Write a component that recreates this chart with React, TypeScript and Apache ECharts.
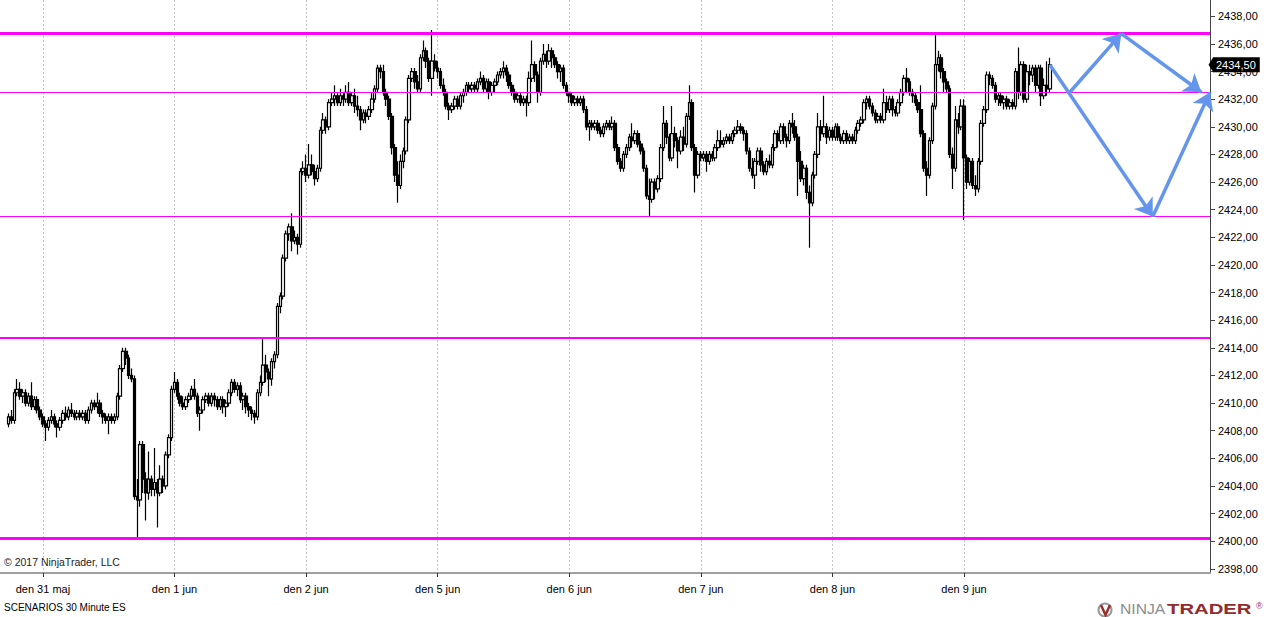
import React, { useEffect, useRef } from "react";
import * as echarts from "echarts";

// one row per 30 minute bar: [open, close, low, high]
type Bar = [number, number, number, number];

const pre30maj: Bar[] = [
  [2408.5, 2409, 2408.25, 2409.25], [2409, 2408.75, 2408.5, 2409.5], [2408.75, 2410.75, 2408.5, 2411],
  [2410.75, 2411, 2410.5, 2411.75], [2411, 2410.5, 2410.25, 2411.5], [2410.5, 2410.75, 2410, 2411],
  [2410.75, 2410, 2409.75, 2411], [2410, 2410.5, 2409.75, 2410.75], [2410.5, 2409.75, 2409.5, 2411.5],
  [2409.75, 2410.25, 2409.5, 2410.5], [2410.25, 2409.5, 2409.25, 2410.5], [2409.5, 2409, 2408.75, 2409.75],
];

const day31maj: Bar[] = [
  [2409, 2408.5, 2408.25, 2409.25], [2408.5, 2408.25, 2407.25, 2408.75], [2408.25, 2408.75, 2408, 2409],
  [2408.75, 2409, 2408.5, 2409.5], [2409, 2408.5, 2408.25, 2409.25], [2408.5, 2408.25, 2407.5, 2408.75],
  [2408.25, 2408.75, 2408, 2409], [2408.75, 2409.25, 2408.5, 2409.5], [2409.25, 2409, 2408.75, 2409.75],
  [2409, 2409.5, 2408.75, 2409.75], [2409.5, 2409.25, 2409, 2410], [2409.25, 2409, 2408.75, 2409.5],
  [2409, 2409.25, 2408.75, 2409.5], [2409.25, 2409, 2408.75, 2409.5], [2409, 2409.25, 2408.75, 2409.5],
  [2409.25, 2408.75, 2408.5, 2409.5], [2408.75, 2409.5, 2408.5, 2409.75], [2409.5, 2410, 2409.25, 2410.25],
  [2410, 2409.75, 2409.5, 2410.25], [2409.75, 2410, 2409.25, 2410.75], [2410, 2409.25, 2409, 2410.25],
  [2409.25, 2409, 2408.5, 2409.5], [2409, 2408.75, 2408.5, 2409.25], [2408.75, 2409, 2407.75, 2409.25],
  [2409, 2408.75, 2408.5, 2409.25], [2408.75, 2409, 2408.5, 2409.25], [2409, 2410.5, 2408.75, 2410.75],
  [2410.5, 2412.5, 2410.25, 2412.75], [2412.5, 2413.75, 2412.25, 2414], [2413.75, 2413.25, 2412.75, 2414],
  [2413.25, 2412, 2411.75, 2413.5], [2412, 2411.75, 2411.5, 2412.5], [2411.75, 2403.25, 2403, 2412],
  [2403.25, 2403, 2400.25, 2404.5], [2403, 2407, 2402.5, 2407.25], [2407, 2404.5, 2403.5, 2407.25],
  [2404.5, 2403.5, 2401.5, 2405], [2403.5, 2404.5, 2403, 2406.5], [2404.5, 2403.75, 2403.25, 2404.75],
  [2403.75, 2404.25, 2403.25, 2406.75], [2404.25, 2403.5, 2401, 2404.5], [2403.5, 2404.5, 2403.25, 2405.5],
  [2404.5, 2404, 2403.5, 2404.75], [2404, 2406.25, 2403.75, 2406.5], [2406.25, 2407.5, 2406, 2407.75],
  [2407.5, 2411, 2407.25, 2411.25],
];

const day1jun: Bar[] = [
  [2411, 2411.5, 2410.75, 2412.25], [2411.5, 2410.5, 2410.25, 2411.75], [2410.5, 2410, 2409.75, 2410.75],
  [2410, 2409.75, 2409.5, 2410.5], [2409.75, 2410.25, 2409.5, 2410.5], [2410.25, 2410.5, 2410, 2410.75],
  [2410.5, 2411, 2410.25, 2411.25], [2411, 2410.5, 2410.25, 2411.75], [2410.5, 2409.25, 2409, 2410.75],
  [2409.25, 2409.5, 2408, 2409.75], [2409.5, 2410.25, 2409.25, 2410.5], [2410.25, 2410.5, 2410, 2410.75],
  [2410.5, 2410, 2409.75, 2410.75], [2410, 2410.5, 2409.75, 2410.75], [2410.5, 2410.25, 2409.75, 2410.75],
  [2410.25, 2409.75, 2409.5, 2410.5], [2409.75, 2410.25, 2409.5, 2410.5], [2410.25, 2409.75, 2409.25, 2410.5],
  [2409.75, 2410, 2409, 2410.25], [2410, 2410.75, 2409.75, 2411], [2410.75, 2411.5, 2410.5, 2411.75],
  [2411.5, 2411, 2410.75, 2411.75], [2411, 2411.25, 2410.5, 2411.5], [2411.25, 2410.25, 2410, 2411.5],
  [2410.25, 2410.5, 2409.5, 2410.75], [2410.5, 2409.75, 2409.25, 2410.75], [2409.75, 2409.5, 2409, 2410],
  [2409.5, 2409.25, 2408.75, 2409.75], [2409.25, 2409, 2408.5, 2409.5], [2409, 2410.75, 2408.75, 2411],
  [2410.75, 2411.5, 2410.5, 2412], [2411.5, 2412.75, 2411.25, 2414.75], [2412.75, 2412.25, 2411.5, 2413.5],
  [2412.25, 2411.75, 2410.5, 2412.5], [2411.75, 2413, 2411.25, 2413.25], [2413, 2413.5, 2412.5, 2413.75],
  [2413.5, 2417, 2413.25, 2417.25], [2417, 2417.75, 2416.5, 2418], [2417.75, 2420.5, 2417.5, 2420.75],
  [2420.5, 2422.25, 2420.25, 2422.5], [2422.25, 2422.75, 2421.75, 2423], [2422.75, 2421.75, 2421, 2423.75],
  [2421.75, 2422, 2421.5, 2422.5], [2422, 2421.5, 2420.75, 2422.25], [2421.5, 2426.75, 2421.25, 2427],
  [2426.75, 2427, 2426.5, 2427.5],
];

const day2jun: Bar[] = [
  [2427, 2426.5, 2426, 2428], [2426.5, 2427.25, 2426.25, 2428.75], [2427.25, 2426.75, 2426.5, 2428],
  [2426.75, 2426.25, 2425.75, 2427.25], [2426.25, 2427, 2426, 2427.25], [2427, 2429.75, 2426.75, 2430],
  [2429.75, 2430.5, 2429.5, 2431], [2430.5, 2430, 2429.5, 2430.75], [2430, 2431.75, 2429.75, 2432],
  [2431.75, 2432, 2431.5, 2432.5], [2432, 2432.25, 2431.5, 2433], [2432.25, 2431.75, 2431.5, 2432.5],
  [2431.75, 2432.25, 2431.5, 2432.75], [2432.25, 2432, 2431.5, 2432.5], [2432, 2432.5, 2431.75, 2433],
  [2432.5, 2431.75, 2431.5, 2433.25], [2431.75, 2432.25, 2431.5, 2432.5], [2432.25, 2431.5, 2431, 2432.75],
  [2431.5, 2431.25, 2430.75, 2432.25], [2431.25, 2430.5, 2429.75, 2431.5], [2430.5, 2431, 2430.25, 2431.25],
  [2431, 2430.75, 2430.25, 2431.25], [2430.75, 2431.25, 2430.5, 2431.5], [2431.25, 2432, 2431, 2432.5],
  [2432, 2432.75, 2431.75, 2433], [2432.75, 2434.25, 2432.5, 2434.5], [2434.25, 2434, 2433.5, 2434.5],
  [2434, 2432.5, 2432.25, 2434.5], [2432.5, 2432, 2431.5, 2432.75], [2432, 2430.75, 2430.5, 2432.25],
  [2430.75, 2428.5, 2428, 2431], [2428.5, 2426.5, 2426, 2428.75], [2426.5, 2425.75, 2424.5, 2427.5],
  [2425.75, 2427.5, 2425.5, 2428], [2427.5, 2428.25, 2427, 2428.5], [2428.25, 2430.5, 2428, 2430.75],
  [2430.5, 2433.5, 2430.25, 2433.75], [2433.5, 2434, 2433.25, 2434.25], [2434, 2433.25, 2432.75, 2434.25],
  [2433.25, 2432.75, 2432.5, 2433.75], [2432.75, 2435, 2432.5, 2435.25], [2435, 2435.5, 2434.75, 2436.25],
  [2435.5, 2434.75, 2434.25, 2435.75], [2434.75, 2433.5, 2433.25, 2435], [2433.5, 2434.75, 2432.25, 2437],
  [2434.75, 2434.25, 2434, 2435.25],
];

const day5jun: Bar[] = [
  [2434.25, 2434, 2433.5, 2434.75], [2434, 2433, 2432.75, 2434.25], [2433, 2432.5, 2432.25, 2433.5],
  [2432.5, 2431.5, 2431.25, 2432.75], [2431.5, 2431.25, 2430.5, 2431.75], [2431.25, 2431.5, 2431, 2431.75],
  [2431.5, 2432, 2431.25, 2432.25], [2432, 2431.5, 2431.25, 2432.25], [2431.5, 2432.25, 2431.25, 2432.5],
  [2432.25, 2432.5, 2431.75, 2432.75], [2432.5, 2433, 2432.25, 2433.25], [2433, 2432.75, 2432.5, 2433.25],
  [2432.75, 2433, 2432.5, 2433.25], [2433, 2432.75, 2432.5, 2433.25], [2432.75, 2433.25, 2432.5, 2433.5],
  [2433.25, 2433.5, 2433, 2434], [2433.5, 2432.75, 2432.5, 2433.75], [2432.75, 2433.25, 2432.5, 2433.5],
  [2433.25, 2432.5, 2432, 2433.5], [2432.5, 2433, 2432.25, 2433.25], [2433, 2433.25, 2432.5, 2433.5],
  [2433.25, 2433.75, 2433, 2434], [2433.75, 2434, 2433.5, 2434.25], [2434, 2434.25, 2433.5, 2434.75],
  [2434.25, 2433.75, 2433.25, 2434.5], [2433.75, 2433, 2432.75, 2434], [2433, 2432.5, 2432.25, 2433.25],
  [2432.5, 2432, 2431.75, 2432.75], [2432, 2432.25, 2431.75, 2432.5], [2432.25, 2431.75, 2431.5, 2432.5],
  [2431.75, 2432, 2431.5, 2432.25], [2432, 2431.75, 2430.75, 2432.25], [2431.75, 2433.5, 2431.5, 2434],
  [2433.5, 2434.5, 2433.25, 2436.25], [2434.5, 2433.75, 2433.25, 2434.75], [2433.75, 2432.5, 2431.75, 2434],
  [2432.5, 2434.75, 2432.25, 2435], [2434.75, 2435.25, 2434.5, 2436], [2435.25, 2434.75, 2434.25, 2435.5],
  [2434.75, 2435.5, 2434.5, 2436], [2435.5, 2435, 2434.25, 2435.75], [2435, 2434.5, 2434.25, 2435.25],
  [2434.5, 2434, 2433.5, 2434.75], [2434, 2434.25, 2433.25, 2434.5], [2434.25, 2433, 2432.75, 2434.5],
  [2433, 2432.5, 2432.25, 2433.25],
];

const day6jun: Bar[] = [
  [2432.5, 2432.25, 2431.75, 2432.5], [2432.25, 2431.75, 2431.5, 2432.5], [2431.75, 2432, 2431.5, 2432.25],
  [2432, 2431.75, 2431.5, 2432.25], [2431.75, 2432, 2431.5, 2432.25], [2432, 2431.25, 2431, 2432.25],
  [2431.25, 2430, 2429.75, 2431.5], [2430, 2430.25, 2429, 2430.5], [2430.25, 2430, 2429.75, 2430.5],
  [2430, 2430.25, 2429.75, 2430.5], [2430.25, 2429.75, 2429.5, 2430.5], [2429.75, 2429.5, 2429.25, 2430],
  [2429.5, 2430, 2429.25, 2430.25], [2430, 2430.25, 2429.75, 2430.5], [2430.25, 2430, 2429.75, 2430.5],
  [2430, 2430.25, 2429.75, 2430.75], [2430.25, 2428.5, 2428.25, 2430.5], [2428.5, 2427.5, 2427.25, 2428.75],
  [2427.5, 2427, 2426.75, 2427.75], [2427, 2428, 2426.75, 2428.25], [2428, 2428.5, 2427.75, 2428.75],
  [2428.5, 2429.25, 2428.25, 2429.5], [2429.25, 2429, 2428.5, 2430.25], [2429, 2429.5, 2428.75, 2429.75],
  [2429.5, 2428.75, 2428.5, 2429.75], [2428.75, 2428.25, 2428, 2429], [2428.25, 2427, 2426.75, 2428.5],
  [2427, 2425, 2424.75, 2427.25], [2425, 2424.75, 2423.5, 2426.25], [2424.75, 2426, 2424.5, 2426.25],
  [2426, 2425.5, 2424.75, 2426.25], [2425.5, 2426.25, 2425.25, 2426.5], [2426.25, 2428.5, 2426, 2428.75],
  [2428.5, 2430.25, 2428.25, 2431.5], [2430.25, 2429.25, 2428.75, 2430.5], [2429.25, 2427.75, 2427.5, 2429.5],
  [2427.75, 2429.5, 2427.5, 2431.5], [2429.5, 2429, 2428.5, 2430], [2429, 2428.25, 2427, 2429.25],
  [2428.25, 2429.25, 2428, 2429.75], [2429.25, 2428.75, 2428.25, 2430], [2428.75, 2430.75, 2428.5, 2431],
  [2430.75, 2431.75, 2430.5, 2433], [2431.75, 2428.5, 2428.25, 2432], [2428.5, 2426.5, 2425.25, 2428.75],
  [2426.5, 2428, 2426.25, 2428.25],
];

const day7jun: Bar[] = [
  [2428, 2427.75, 2427.5, 2428.25], [2427.75, 2428, 2427.5, 2428.25], [2428, 2427.5, 2426.75, 2428.25],
  [2427.5, 2428, 2427.25, 2428.25], [2428, 2427.75, 2427.5, 2428.25], [2427.75, 2428.5, 2427.5, 2428.75],
  [2428.5, 2429, 2428.25, 2429.75], [2429, 2428.75, 2428.5, 2429.75], [2428.75, 2429, 2428.5, 2429.25],
  [2429, 2429.25, 2428.75, 2429.5], [2429.25, 2429, 2428.75, 2429.5], [2429, 2429.5, 2428.75, 2429.75],
  [2429.5, 2429.75, 2429.25, 2430], [2429.75, 2430, 2429.5, 2430.5], [2430, 2429.75, 2429.5, 2430.25],
  [2429.75, 2429.5, 2429, 2430], [2429.5, 2428.25, 2428, 2429.75], [2428.25, 2427, 2426.75, 2428.5],
  [2427, 2426.5, 2426.25, 2427.75], [2426.5, 2427.5, 2425.5, 2427.75], [2427.5, 2428.25, 2427.25, 2428.5],
  [2428.25, 2427.25, 2426.75, 2428.5], [2427.25, 2426.75, 2426.5, 2427.5], [2426.75, 2427.5, 2426.5, 2427.75],
  [2427.5, 2427.25, 2427, 2428], [2427.25, 2428.5, 2427, 2428.75], [2428.5, 2429.5, 2428.25, 2429.75],
  [2429.5, 2429, 2428.5, 2429.75], [2429, 2430, 2428.75, 2430.25], [2430, 2429.25, 2428.75, 2430.25],
  [2429.25, 2429, 2428.5, 2429.5], [2429, 2430.25, 2428.75, 2430.5], [2430.25, 2430, 2429.5, 2431],
  [2430, 2429.25, 2429, 2430.5], [2429.25, 2427.5, 2425, 2429.5], [2427.5, 2426.25, 2426, 2428.25],
  [2426.25, 2427, 2425.75, 2427.25], [2427, 2425.25, 2424.75, 2427.25], [2425.25, 2424.5, 2421.25, 2425.75],
  [2424.5, 2426.5, 2424.25, 2426.75], [2426.5, 2428, 2426.25, 2428.25], [2428, 2430, 2427.75, 2431],
  [2430, 2429.5, 2429, 2430.5], [2429.5, 2430, 2429.25, 2432.25], [2430, 2429.25, 2428.75, 2430.25],
  [2429.25, 2429.75, 2429, 2430],
];

const day8jun: Bar[] = [
  [2429.75, 2429.25, 2429, 2430], [2429.25, 2430, 2429, 2430.25], [2430, 2429.25, 2429, 2430.25],
  [2429.25, 2429, 2428.75, 2429.5], [2429, 2429.5, 2428.75, 2429.75], [2429.5, 2429, 2428.75, 2429.75],
  [2429, 2429.25, 2428.75, 2429.5], [2429.25, 2429, 2428.75, 2429.5], [2429, 2429.75, 2428.75, 2430],
  [2429.75, 2430.25, 2429.5, 2430.5], [2430.25, 2430.5, 2430, 2430.75], [2430.5, 2431.75, 2430.25, 2432],
  [2431.75, 2432, 2431.25, 2432.25], [2432, 2431.5, 2431.25, 2432.25], [2431.5, 2431, 2430.75, 2431.75],
  [2431, 2430.5, 2430.25, 2431.25], [2430.5, 2430.75, 2430.25, 2431], [2430.75, 2430.5, 2430.25, 2431],
  [2430.5, 2431.75, 2430.25, 2432.75], [2431.75, 2431.25, 2431, 2432.25], [2431.25, 2432, 2431, 2432.25],
  [2432, 2431.25, 2430.75, 2432.25], [2431.25, 2431, 2430.75, 2431.5], [2431, 2431.75, 2430.75, 2432],
  [2431.75, 2432.5, 2431.5, 2432.75], [2432.5, 2433.5, 2432.25, 2433.75], [2433.5, 2433.25, 2432.5, 2434.25],
  [2433.25, 2432.5, 2432.25, 2433.5], [2432.5, 2432.25, 2431.75, 2432.75], [2432.25, 2431.75, 2431.5, 2432.5],
  [2431.75, 2431.25, 2431, 2432], [2431.25, 2429.5, 2429.25, 2433], [2429.5, 2427, 2426.75, 2429.75],
  [2427, 2426.5, 2425, 2427.5], [2426.5, 2429, 2426.25, 2429.25], [2429, 2431.5, 2428.75, 2431.75],
  [2431.5, 2434.5, 2431.25, 2436.75], [2434.5, 2435, 2434, 2435.5], [2435, 2434, 2433.5, 2435.25],
  [2434, 2433.25, 2432.5, 2434.25], [2433.25, 2432.75, 2432.5, 2433.5], [2432.75, 2428, 2427.75, 2433],
  [2428, 2427, 2425.5, 2428.5], [2427, 2430.5, 2426.75, 2431.5], [2430.5, 2430, 2429.5, 2431],
  [2430, 2431.5, 2429.75, 2432],
];

const day9jun: Bar[] = [
  [2431.5, 2427.75, 2423.25, 2432], [2427.75, 2426, 2425.5, 2428], [2426, 2427.5, 2425.75, 2427.75],
  [2427.5, 2425.75, 2425.5, 2427.75], [2425.75, 2425.5, 2425, 2426.5], [2425.5, 2427.5, 2425.25, 2427.75],
  [2427.5, 2430.25, 2427.25, 2430.5], [2430.25, 2431.25, 2430, 2431.5], [2431.25, 2433.75, 2431, 2434],
  [2433.75, 2433.5, 2433, 2434], [2433.5, 2433, 2432.75, 2433.75], [2433, 2432, 2431.75, 2433.25],
  [2432, 2432.25, 2431.5, 2432.5], [2432.25, 2431.75, 2431.5, 2432.5], [2431.75, 2432, 2431.25, 2432.25],
  [2432, 2431.5, 2431.25, 2432.25], [2431.5, 2431.75, 2431.25, 2432], [2431.75, 2431.5, 2431.25, 2432],
  [2431.5, 2434, 2431.25, 2434.25], [2434, 2432.5, 2432, 2435.75], [2432.5, 2434.5, 2432.25, 2434.75],
  [2434.5, 2432, 2431.75, 2434.75], [2432, 2434, 2431.75, 2434.5], [2434, 2433.75, 2433, 2434.5],
  [2433.75, 2434.25, 2433.25, 2434.5], [2434.25, 2433, 2432.5, 2434.5], [2433, 2434.25, 2432.75, 2434.5],
  [2434.25, 2432.25, 2431.5, 2434.5], [2432.25, 2433, 2432, 2433.5], [2433, 2432.75, 2432.25, 2434.75],
  [2432.75, 2434.5, 2432.5, 2435],
];

const sessions: { day: string; startMin: number; bars: Bar[] }[] = [
  { day: "den 30 maj", startMin: 18 * 60, bars: pre30maj },
  { day: "den 31 maj", startMin: 0, bars: day31maj },
  { day: "den 1 jun", startMin: 0, bars: day1jun },
  { day: "den 2 jun", startMin: 0, bars: day2jun },
  { day: "den 5 jun", startMin: 0, bars: day5jun },
  { day: "den 6 jun", startMin: 0, bars: day6jun },
  { day: "den 7 jun", startMin: 0, bars: day7jun },
  { day: "den 8 jun", startMin: 0, bars: day8jun },
  { day: "den 9 jun", startMin: 0, bars: day9jun },
];

// horizontal levels drawn in magenta
const levels = [2436.75, 2432.5, 2423.5, 2414.75, 2400.25];
const levelWidths = [3, 1, 1, 2, 3];

// scenario arrows: [bars after the last bar, price] -> [bars after, price]
const scenarioArrows: [[number, number], [number, number]][] = [
  [[0, 2434.5], [36, 2423.5]],
  [[7, 2432.5], [25, 2436.75]],
  [[25, 2436.75], [53, 2432.5]],
  [[36, 2423.5], [56, 2432.5]],
];

const yTicks = [
  2398, 2400, 2402, 2404, 2406, 2408, 2410, 2412, 2414, 2416, 2418,
  2420, 2422, 2424, 2426, 2428, 2430, 2432, 2434, 2436, 2438,
];

const LEAD = 3;
const TRAIL = 56;

const categories: string[] = [];
const candles: (Bar | string[])[] = [];
for (let i = 0; i < LEAD; i++) {
  categories.push(`lead ${i}`);
  candles.push(["-", "-", "-", "-"]);
}
sessions.forEach((s) =>
  s.bars.forEach((b, k) => {
    const m = s.startMin + k * 30;
    const hh = String(Math.floor(m / 60) % 24).padStart(2, "0");
    const mm = String(m % 60).padStart(2, "0");
    categories.push(`${s.day} ${hh}:${mm}`);
    candles.push(b);
  })
);
const lastIndex = categories.length - 1;
const lastBar = day9jun[day9jun.length - 1];
const lastClose = lastBar[1];
for (let i = 0; i < TRAIL; i++) categories.push(`next ${i}`);

const isDayStart = (_: number, value: string) => / 00:00$/.test(value);
const fmt = (v: number) => v.toFixed(2).replace(".", ",");
const FONT = "'Liberation Sans', Arial, sans-serif";

const App = () => {
  const chartRef = useRef<HTMLDivElement>(null);

  useEffect(() => {
    const chart = echarts.init(chartRef.current, null, { renderer: "svg" });
    chart.setOption({
      animation: false,
      backgroundColor: "#ffffff",
      textStyle: { fontFamily: FONT },
      grid: { left: 0, right: 54, top: 0, bottom: 44 },
      xAxis: {
        type: "category",
        data: categories,
        boundaryGap: false,
        axisLine: { lineStyle: { color: "#a0a0a0", width: 2 } },
        axisTick: { show: true, interval: isDayStart, length: 4, lineStyle: { color: "#333" } },
        axisLabel: {
          interval: isDayStart,
          formatter: (v: string) => v.replace(/ \d\d:\d\d$/, ""),
          color: "#000",
          fontSize: 11,
          margin: 10,
        },
        splitLine: {
          show: true,
          interval: isDayStart,
          lineStyle: { color: "#c4c4c4", width: 1, type: [2, 2] },
        },
      },
      yAxis: {
        type: "value",
        position: "right",
        min: 2397.7,
        max: 2439.18,
        scale: true,
        axisLine: { show: true, lineStyle: { color: "#444", width: 1 } },
        axisTick: { show: true, length: 5, customValues: yTicks, lineStyle: { color: "#444" } },
        axisLabel: {
          customValues: yTicks,
          formatter: fmt,
          color: "#000",
          fontSize: 11,
          margin: 8,
        },
        splitLine: { show: false },
      },
      series: [
        {
          type: "candlestick",
          data: candles,
          barWidth: 3,
          itemStyle: {
            color: "#ffffff",
            color0: "#000000",
            borderColor: "#000000",
            borderColor0: "#000000",
            borderWidth: 1.2,
          },
          markLine: {
            silent: true,
            symbol: ["none", "none"],
            label: { show: false },
            data: levels.map((v, i) => ({
              yAxis: v,
              lineStyle: { color: "#ff00ff", width: levelWidths[i], type: "solid" },
            })),
          },
          z: 3,
        },
        {
          type: "line",
          data: [],
          clip: false,
          silent: true,
          markLine: {
            silent: true,
            symbol: ["none", "arrow"],
            symbolSize: 17,
            label: { show: false },
            lineStyle: { color: "#6495ed", width: 3.5, type: "solid" },
            data: scenarioArrows.map(([a, b]) => [
              { coord: [lastIndex + a[0], a[1]] },
              { coord: [lastIndex + b[0], b[1]] },
            ]),
          },
          z: 4,
        },
        {
          type: "line",
          data: [],
          clip: false,
          silent: true,
          markLine: {
            silent: true,
            symbol: ["none", "none"],
            lineStyle: { color: "rgba(0,0,0,0)", width: 1 },
            label: {
              show: true,
              position: "end",
              distance: 3,
              formatter: () => fmt(lastClose),
              color: "#ffffff",
              backgroundColor: "#000000",
              fontSize: 11,
              padding: [2, 4, 2, 3],
            },
            data: [{ yAxis: lastClose }],
          },
          markPoint: {
            silent: true,
            symbol: "path://M0,6L5,0L5,12Z",
            symbolSize: [5, 16],
            symbolOffset: [1, 0],
            itemStyle: { color: "#000" },
            label: { show: false },
            data: [{ coord: [categories.length - 1, lastClose] }],
          },
          z: 5,
        },
      ],
      graphic: [
        {
          type: "text",
          left: 4,
          top: 556,
          style: { text: "© 2017 NinjaTrader, LLC", fontSize: 10.5, fill: "#222", fontFamily: FONT },
        },
        {
          type: "text",
          left: 4,
          top: 602,
          style: {
            text: "SCENARIOS 30 Minute ES",
            fontSize: 10,
            fill: "#000",
            fontFamily: "'Liberation Sans Narrow', 'Liberation Sans', sans-serif",
          },
        },
        {
          type: "group",
          left: 1096,
          top: 601,
          children: [
            { type: "circle", shape: { cx: 7, cy: 7, r: 6.5 }, style: { fill: "none", stroke: "#9a9a9a", lineWidth: 2 } },
            { type: "polyline", shape: { points: [[3, 2], [7.5, 12], [12, 2]] }, style: { stroke: "#9b2d2d", lineWidth: 2.5, fill: "none" } },
          ],
        },
        {
          type: "text",
          left: 1120,
          top: 602,
          style: { text: "NINJA", fontSize: 14, fill: "#8c8c8c", fontFamily: FONT },
          scaleX: 1.12,
        },
        {
          type: "text",
          left: 1167,
          top: 602,
          style: { text: "TRADER", fontSize: 14, fontWeight: "bold", fill: "#922b2b", fontFamily: FONT },
          scaleX: 1.45,
        },
        {
          type: "text",
          left: 1256,
          top: 601,
          style: { text: "®", fontSize: 9, fill: "#922b2b", fontFamily: FONT },
        },
      ],
    });
    return () => {
      chart.dispose();
    };
  }, []);

  return (
    <div
      ref={chartRef}
      style={{ position: "absolute", left: 0, top: 0, width: 1264, height: 617 }}
    />
  );
};

export default App;
